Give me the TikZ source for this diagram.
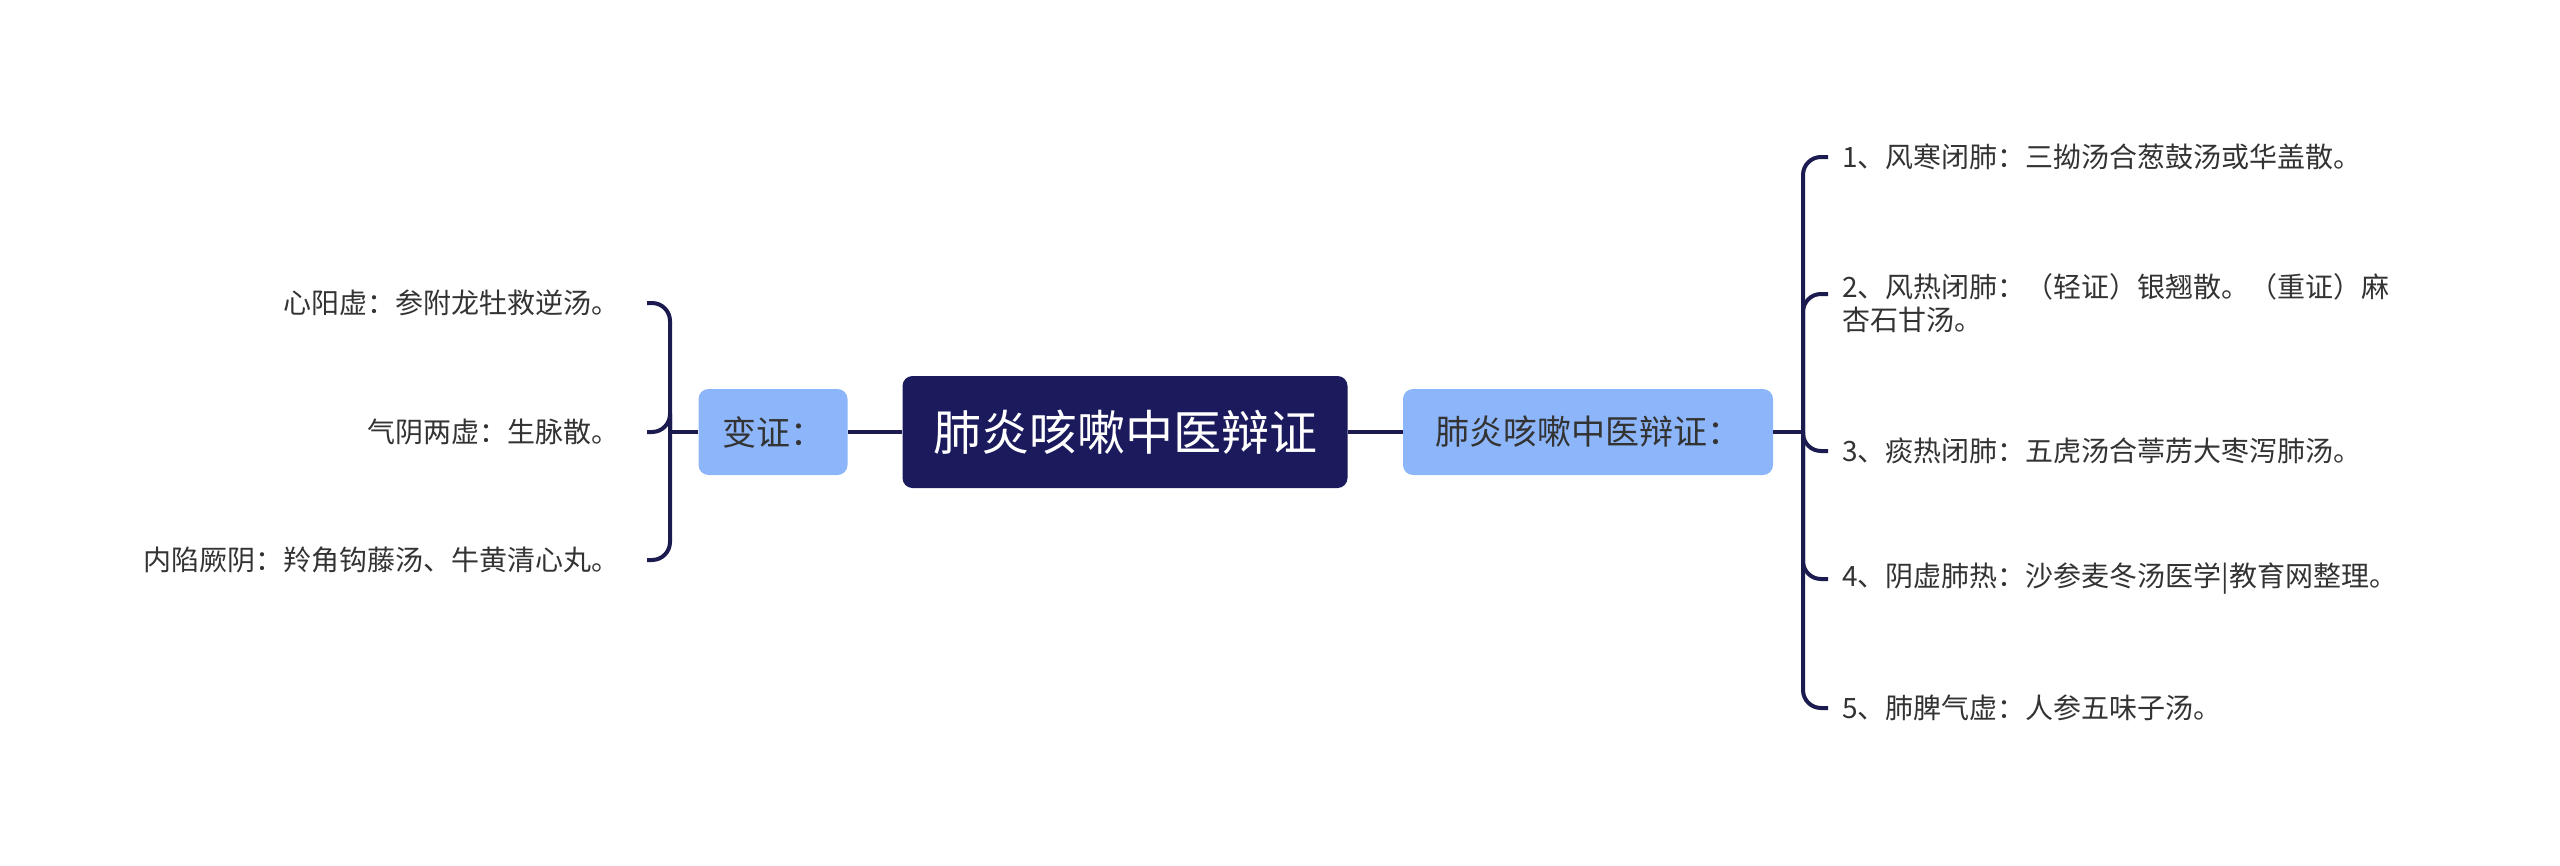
\documentclass[tikz,border=0pt]{standalone}
\usepackage{fontspec}
\newfontfamily\cjk{Noto Sans CJK SC}
\definecolor{navy}{HTML}{1B1A5C}
\definecolor{lightblue}{HTML}{8DB6FA}
\definecolor{linecol}{HTML}{1B1B50}
\definecolor{txt}{HTML}{333333}

\begin{document}
\begin{tikzpicture}[x=1pt,y=-1pt,
    rootbox/.style={fill=navy, rounded corners=10pt, text=white, minimum width=445pt, minimum height=112pt, font=\cjk\fontsize{48}{56}\selectfont},
    subbox/.style={fill=lightblue, rounded corners=10pt, text=txt, minimum height=86pt, font=\cjk\fontsize{34}{40}\selectfont},
    leaf/.style={text=txt, inner ysep=0pt, align=left, font=\cjk\fontsize{28}{33}\selectfont},
    rleaf/.style={leaf, anchor=west, inner xsep=14pt},
    lleaf/.style={leaf, anchor=east, inner xsep=27pt},
    link/.style={draw=linecol, line width=4pt},
    branchlink/.style={link, rounded corners=18pt}]
    \useasboundingbox (0,0) rectangle (2560,865);

    \node[rootbox] (root) at (1125,432) {肺炎咳嗽中医辩证};
    \node[subbox, minimum width=370pt] (rmain) at (1588,432) {肺炎咳嗽中医辩证：};
    \node[subbox, minimum width=149pt] (lmain) at (773,432) {变证：};

    \node[rleaf] (r1) at (1828,157) {1、风寒闭肺：三拗汤合葱鼓汤或华盖散。};
    \node[rleaf] (r2) at (1828,303) {2、风热闭肺：（轻证）银翘散。（重证）麻\\杏石甘汤。};
    \node[rleaf] (r3) at (1828,451) {3、痰热闭肺：五虎汤合葶苈大枣泻肺汤。};
    \node[rleaf] (r4) at (1828,579) {4、阴虚肺热：沙参麦冬汤医学|教育网整理。};
    \node[rleaf] (r5) at (1828,708) {5、肺脾气虚：人参五味子汤。};

    \node[lleaf] (l1) at (647,303) {心阳虚：参附龙牡救逆汤。};
    \node[lleaf] (l2) at (647,432) {气阴两虚：生脉散。};
    \node[lleaf] (l3) at (647,560) {内陷厥阴：羚角钩藤汤、牛黄清心丸。};

    \coordinate (jr) at (1803,432);
    \coordinate (jl) at (670,432);

    \draw[link] (root.east) -- (rmain.west);
    \draw[link] (root.west) -- (lmain.east);
    \draw[link] (rmain.east) -- (jr);
    \draw[link] (lmain.west) -- (jl);

    \draw[branchlink] (jr) |- (r1.west);
    \draw[branchlink] (jr) |- ([yshift=9pt]r2.west);
    \draw[branchlink] (jr) |- (r3.west);
    \draw[branchlink] (jr) |- (r4.west);
    \draw[branchlink] (jr) |- (r5.west);

    \draw[branchlink] (jl) |- (l1.east);
    \draw[branchlink] (jl) |- (l2.east);
    \draw[branchlink] (jl) |- (l3.east);
\end{tikzpicture}
\end{document}
